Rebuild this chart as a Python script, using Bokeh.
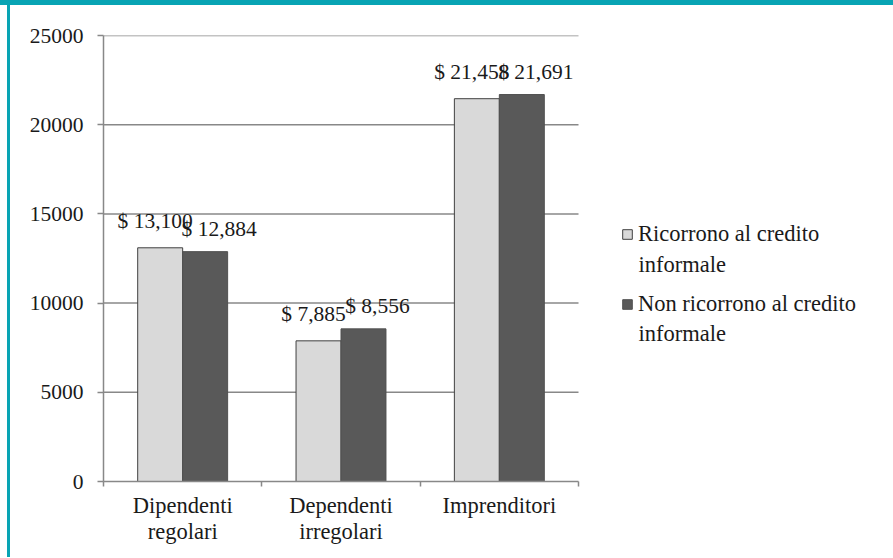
from bokeh.plotting import figure
from bokeh.models import (ColumnDataSource, Range1d, FixedTicker, Legend, LegendItem, Div, Label)
from bokeh.layouts import column, row
from bokeh.embed import file_html
from bokeh.resources import INLINE
from bokeh.core.properties import value

# ---- data ----
categories = ["Dipendenti\nregolari", "Dependenti\nirregolari", "Imprenditori"]
ricorrono = [13100, 7885, 21458]
non_ricorrono = [12884, 8556, 21691]
series_first = ["Ricorrono al credito", "Non ricorrono al credito"]
series_second = ["informale", "informale"]
y_ticks = [0, 5000, 10000, 15000, 20000, 25000]

FONT = "'Liberation Serif', 'DejaVu Serif', serif"
FS_NUM = "21.5px"
FS_TXT = "22.5px"
TEAL = "#08a4b4"
LIGHT = "#d9d9d9"
DARK = "#595959"
TXT = "#1a1a1a"
AX = "#888888"

# layout (pixels)
FRAME_LEFT, FRAME_TOP, FRAME_BOTTOM, FRAME_RIGHT = 103, 35, 481, 885
PLOT_PX = 475          # width of the category area
P_X, P_Y, P_W, P_H = 10, 5, 882, 552

n = len(categories)
centers = [i + 0.5 for i in range(n)]
bw = 0.284
x_end = n * (FRAME_RIGHT - FRAME_LEFT) / PLOT_PX

src = ColumnDataSource(dict(
    x1=[c - bw / 2 for c in centers], x2=[c + bw / 2 for c in centers],
    r=ricorrono, nr=non_ricorrono,
    lr=["$ {:,}".format(v) for v in ricorrono],
    lnr=["$ {:,}".format(v) for v in non_ricorrono],
))

p = figure(width=P_W, height=P_H, x_range=Range1d(0, x_end), y_range=Range1d(0, 25000),
           output_backend="svg", toolbar_location=None,
           min_border_left=FRAME_LEFT - P_X, min_border_right=P_X + P_W - FRAME_RIGHT,
           min_border_top=FRAME_TOP - P_Y, min_border_bottom=P_Y + P_H - FRAME_BOTTOM)
p.outline_line_color = None
p.background_fill_color = "white"
p.border_fill_color = "white"

# horizontal gridlines limited to the category area
grid_src = ColumnDataSource(dict(y=y_ticks[1:], x0=[0] * (len(y_ticks) - 1),
                                 x1=[n] * (len(y_ticks) - 1)))
p.segment(x0="x0", x1="x1", y0="y", y1="y", source=grid_src, line_color=AX, line_width=1.5)

r1 = p.vbar(x="x1", top="r", width=bw, source=src, fill_color=LIGHT,
            line_color="#404040", line_width=1)
r2 = p.vbar(x="x2", top="nr", width=bw, source=src, fill_color=DARK,
            line_color="#505050", line_width=1)

p.text(x="x1", y="r", text="lr", source=src, text_font=value(FONT), text_font_size=FS_NUM,
       text_align="center", text_baseline="alphabetic", y_offset=-27, x_offset=-5,
       text_color=TXT)
p.text(x="x2", y="nr", text="lnr", source=src, text_font=value(FONT), text_font_size=FS_NUM,
       text_align="center", text_baseline="alphabetic", y_offset=-23, x_offset=14,
       text_color=TXT)

# x axis
xa = p.xaxis[0]
xa.bounds = (0, n)
xa.ticker = FixedTicker(ticks=centers, minor_ticks=list(range(n + 1)))
xa.major_label_overrides = {c: lab for c, lab in zip(centers, categories)}
xa.major_tick_out = 0
xa.major_tick_in = 0
xa.minor_tick_out = 5
xa.minor_tick_in = 0
xa.minor_tick_line_color = AX
xa.minor_tick_line_width = 1.5
xa.axis_line_color = AX
xa.axis_line_width = 1.5
xa.major_label_text_font = FONT
xa.major_label_text_font_size = FS_TXT
xa.major_label_text_line_height = 1.05
xa.major_label_text_color = TXT
xa.major_label_standoff = 6

ya = p.yaxis[0]
ya.ticker = FixedTicker(ticks=y_ticks, minor_ticks=[])
ya.major_tick_out = 6
ya.major_tick_in = 0
ya.major_tick_line_color = AX
ya.major_tick_line_width = 1.5
ya.axis_line_color = AX
ya.axis_line_width = 1.5
ya.major_label_text_font = FONT
ya.major_label_text_font_size = FS_NUM
ya.major_label_text_color = TXT
ya.major_label_standoff = 14

p.xgrid.grid_line_color = None
p.ygrid.grid_line_color = None

# legend
LEG_X, LEG_TOP = 621, 225
legend = Legend(items=[LegendItem(label=series_first[0], renderers=[r1]),
                       LegendItem(label=series_first[1], renderers=[r2])],
                location=(LEG_X - FRAME_LEFT, FRAME_BOTTOM - LEG_TOP - 92),
                orientation="vertical",
                label_text_font=FONT, label_text_font_size=FS_TXT, label_text_color=TXT,
                glyph_width=12, glyph_height=12, label_height=24, label_standoff=5,
                spacing=44, padding=0, margin=0, border_line_color=None,
                background_fill_alpha=0)
p.add_layout(legend, "center")

for txt, base in zip(series_second, [264, 333]):
    p.add_layout(Label(x=638 - FRAME_LEFT, y=FRAME_BOTTOM - base, x_units="screen",
                       y_units="screen", text=txt, text_font=FONT, text_font_size=FS_TXT,
                       text_color=TXT, text_baseline="alphabetic"))

top_bar = Div(width=893, height=P_Y, margin=0, styles={"background-color": TEAL})
left_pad = Div(width=7, height=P_H, margin=0)
left_bar = Div(width=3, height=P_H, margin=0, styles={"background-color": TEAL})

page = column(top_bar, row(left_pad, left_bar, p, spacing=0), spacing=0)

open("out.html", "w").write(file_html(page, INLINE))
